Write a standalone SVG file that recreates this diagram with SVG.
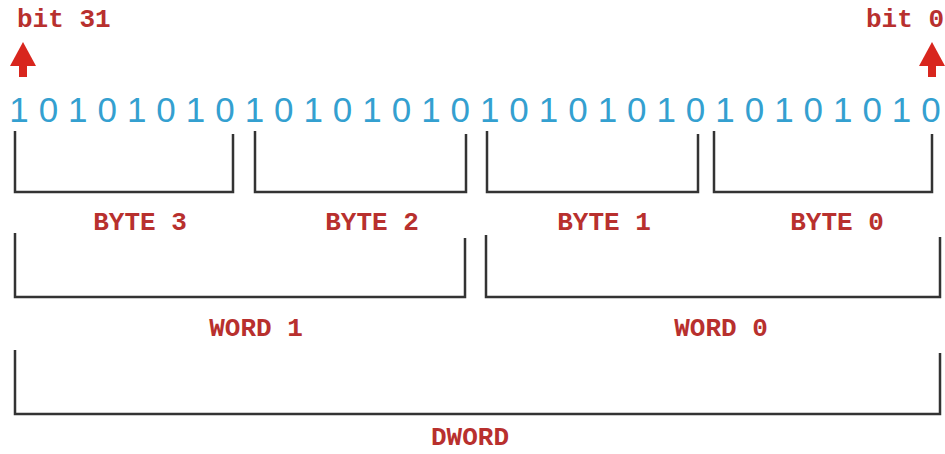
<svg xmlns="http://www.w3.org/2000/svg" width="945" height="454" viewBox="0 0 945 454">
<style>
.lbl{font-family:"Liberation Mono","Courier New",monospace;font-weight:bold;font-size:26px;fill:#b8302e;text-anchor:middle}
.bits{font-family:"Liberation Sans",Arial,sans-serif;font-size:35px;fill:#34a0d0;text-anchor:middle}
.br{fill:none;stroke:#333;stroke-width:2.5;stroke-linejoin:miter}
.arr{fill:#d8261e}
</style>
<rect width="945" height="454" fill="#fff"/>
<g id="bit31">
<text class="lbl" x="17" y="27" style="text-anchor:start">bit 31</text>
<polygon class="arr" points="23,42 10,66 36,66"/>
<rect class="arr" x="19" y="64" width="8" height="13"/>
</g>
<g id="bit0">
<text class="lbl" x="944" y="27" style="text-anchor:end">bit 0</text>
<polygon class="arr" points="932,42 919,66 945,66"/>
<rect class="arr" x="928" y="64" width="8" height="13"/>
</g>
<g id="bits">
<text class="bits" y="122" x="19 48.4 77.8 107.3 136.7 166.1 195.5 224.9 254.4 283.8 313.2 342.6 372 401.5 430.9 460.3 489.7 519.1 548.5 578 607.4 636.8 666.2 695.6 725.1 754.5 783.9 813.3 842.7 872.2 901.6 931">10101010101010101010101010101010</text>
</g>
<g id="connectors">
<path class="br" d="M15,131 V192 H233 V134"/>
<path class="br" d="M255,131 V192 H466 V134"/>
<path class="br" d="M487,131 V192 H698 V134"/>
<path class="br" d="M714,131 V192 H932 V134"/>
<path class="br" d="M15,233 V297 H465 V238"/>
<path class="br" d="M486,235 V297 H940 V237"/>
<path class="br" d="M15,350 V414 H940 V353"/>
</g>
<g id="byte3"><text class="lbl" x="140" y="230">BYTE 3</text></g>
<g id="byte2"><text class="lbl" x="372" y="230">BYTE 2</text></g>
<g id="byte1"><text class="lbl" x="604" y="230">BYTE 1</text></g>
<g id="byte0"><text class="lbl" x="837" y="230">BYTE 0</text></g>
<g id="word1"><text class="lbl" x="256" y="336">WORD 1</text></g>
<g id="word0"><text class="lbl" x="721" y="336">WORD 0</text></g>
<g id="dword"><text class="lbl" x="470" y="445">DWORD</text></g>
</svg>
